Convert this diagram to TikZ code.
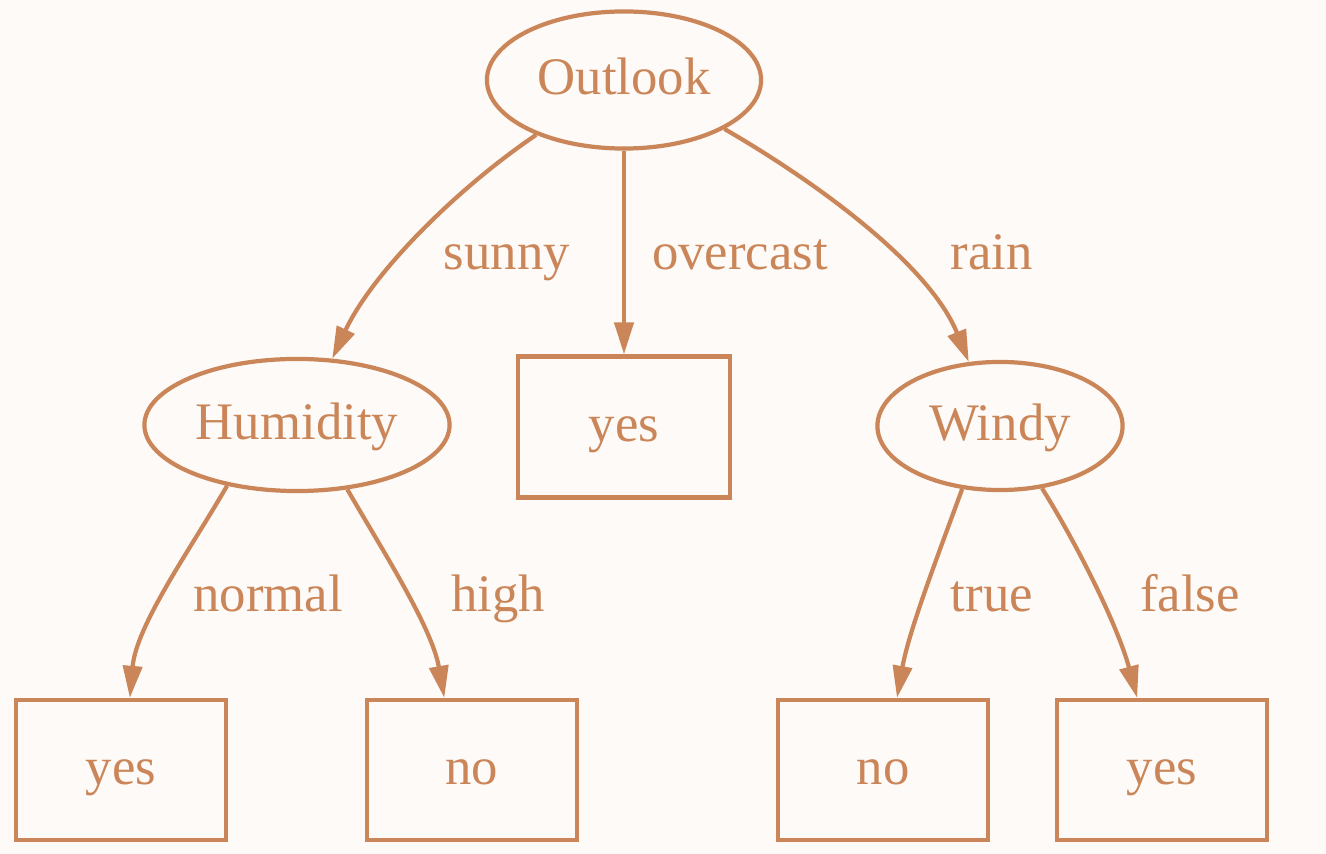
\documentclass[tikz,border=0pt]{standalone}
\usepackage{fontspec}
\setmainfont{Liberation Serif}
\usepackage{xcolor}
\usetikzlibrary{arrows.meta, shapes.geometric}
\definecolor{treebrown}{RGB}{202,134,88}
\definecolor{paper}{RGB}{253,250,248}

\begin{document}
\begin{tikzpicture}[x=0.01cm, y=0.01cm,
    every node/.append style={font=\fontsize{15}{18}\selectfont, text=treebrown, text height=11pt, text depth=3pt},
    attr/.style={draw=treebrown, line width=1.2pt, ellipse, inner sep=0pt},
    leaf/.style={draw=treebrown, line width=1.2pt, rectangle, minimum width=2.1cm, minimum height=1.4cm},
    arr/.style={-{Triangle[length=3.2mm, width=1.9mm]}, draw=treebrown, line width=1.2pt},
]

\fill[paper] (0,0) rectangle (1326,854);
\useasboundingbox (0,0) rectangle (1326,854);

\node[attr, minimum width=2.74cm, minimum height=1.37cm] (outlook) at (624, 774) {Outlook};
\node[attr, minimum width=3.05cm, minimum height=1.32cm] (humid) at (297, 429) {Humidity};
\node[leaf, minimum width=2.12cm, minimum height=1.41cm] (yesM) at (624, 427) {yes};
\node[attr, minimum width=2.45cm, minimum height=1.28cm] (windy) at (1000, 428) {Windy};

\node[leaf] (yesA) at (121, 84) {yes};
\node[leaf] (noA) at (472, 84) {no};
\node[leaf] (noB) at (883, 84) {no};
\node[leaf] (yesB) at (1162, 84) {yes};

\draw[arr] (outlook.-148) to[out=-146, in=65, looseness=0.8] (humid.62);
\draw[arr] (outlook) -- (yesM);
\draw[arr] (outlook.-26) to[out=-30, in=112, looseness=0.8] (windy.116);
\draw[arr] (humid.-139) to[out=-120, in=85, looseness=0.8] (yesA.83);
\draw[arr] (humid.-52) to[out=-60, in=100, looseness=0.8] (noA.111);
\draw[arr] (windy.-121) to[out=-110, in=80, looseness=0.8] (noB.79);
\draw[arr] (windy.-56) to[out=-58, in=105, looseness=0.8] (yesB.109);

\node (lsunny) at (507, 599) {sunny};
\node (lover) at (740, 599) {overcast};
\node (lrain) at (992, 599) {rain};
\node (lnormal) at (268, 257) {normal};
\node (lhigh) at (498, 257) {high};
\node (ltrue) at (992, 257) {true};
\node (lfalse) at (1190, 257) {false};

\end{tikzpicture}
\end{document}
